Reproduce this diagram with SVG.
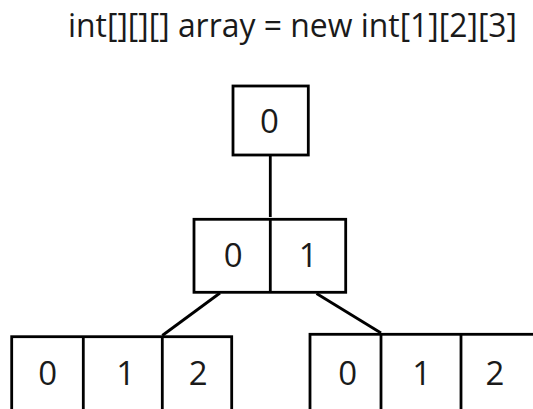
<svg xmlns="http://www.w3.org/2000/svg" width="533" height="409" viewBox="0 0 533 409">
  <style>
    .box { fill: #ffffff; stroke: #000000; stroke-width: 2.8; }
    .div { stroke: #000000; stroke-width: 2.8; }
    .edge { stroke: #000000; stroke-width: 2.8; fill: none; }
    .lbl { font-family: "Open Sans", "Noto Sans", sans-serif; font-size: 33px; fill: #1a1a1a; text-anchor: middle; }
    .title { font-family: "Open Sans", "Noto Sans", sans-serif; font-size: 33px; fill: #1a1a1a; }
  </style>
  <rect width="533" height="409" fill="#ffffff"/>

  <text class="title" x="68" y="37" textLength="449" lengthAdjust="spacingAndGlyphs">int[][][] array = new int[1][2][3]</text>

  <g id="connectors">
    <line class="edge" x1="270.3" y1="155" x2="270.3" y2="217"/>
    <line class="edge" x1="220" y1="293" x2="162.3" y2="335.5"/>
    <line class="edge" x1="316.5" y1="293.5" x2="381" y2="333"/>
  </g>

  <g id="level0">
    <rect class="box" x="233" y="86" width="75.3" height="69"/>
    <text class="lbl" x="269.5" y="132.5">0</text>
  </g>

  <g id="level1">
    <rect class="box" x="194" y="219.3" width="151.7" height="73"/>
    <line class="div" x1="270.3" y1="219.3" x2="270.3" y2="292.3"/>
    <text class="lbl" x="233.3" y="266.5">0</text>
    <text class="lbl" x="308.3" y="266.5">1</text>
  </g>

  <g id="level2-left">
    <rect class="box" x="11.7" y="336.7" width="220" height="90"/>
    <line class="div" x1="83.3" y1="336.7" x2="83.3" y2="420"/>
    <line class="div" x1="162.3" y1="336.7" x2="162.3" y2="420"/>
    <text class="lbl" x="47.7" y="385">0</text>
    <text class="lbl" x="125.7" y="385">1</text>
    <text class="lbl" x="198.3" y="385">2</text>
  </g>

  <g id="level2-right">
    <rect class="box" x="310" y="334.3" width="226" height="92"/>
    <line class="div" x1="381" y1="334.3" x2="381" y2="420"/>
    <line class="div" x1="461" y1="334.3" x2="461" y2="420"/>
    <text class="lbl" x="347.7" y="385">0</text>
    <text class="lbl" x="421.7" y="385">1</text>
    <text class="lbl" x="495" y="385">2</text>
  </g>
</svg>
